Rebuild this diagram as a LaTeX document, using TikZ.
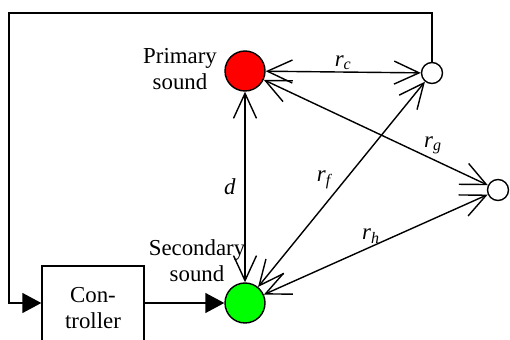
\documentclass[tikz,border=0pt]{standalone}
\usepackage{fontspec}
\setmainfont{Liberation Serif}
\usetikzlibrary{arrows.meta,positioning}
\newcommand{\rdist}[1]{\textit{r}\textsubscript{\textit{#1}}}
\tikzset{
	src/.style={draw,circle,thick,minimum size=0.8cm,inner sep=0pt},
	mic/.style={draw,circle,thick,fill=white,minimum size=0.42cm,inner sep=0pt},
	wave/.style={thick,{Straight Barb[length=0.5cm,width=0.46cm]}-{Straight Barb[length=0.5cm,width=0.46cm]}},
	feed/.style={thick,-{Triangle[length=0.38cm,width=0.4cm]}},
	lbl/.style={font=\fontsize{13}{15}\selectfont,align=center,inner sep=1pt}
}
\begin{document}
\begin{tikzpicture}[x=0.02cm,y=-0.02cm]
	\useasboundingbox (0,0) rectangle (510,340);
	\node[src,fill=red] (prim) at (245,71) {};
	\node[src,fill=green] (sec) at (245,303) {};
	\node[mic] (micA) at (432,73) {};
	\node[mic] (micB) at (498,190) {};
	\node[draw,thick,minimum width=2.04cm,minimum height=1.68cm,lbl] (ctrl) at (93,308) {Con-\\troller};
	\node[lbl] (primtxt) at (180,69) {Primary\\sound};
	\node[lbl] (sectxt) at (197,261) {Secondary\\sound};
	\coordinate (corner) at (9,13);
	\draw[wave] (prim) -- node[lbl,above] {\rdist{c}} (micA);
	\draw[wave] (prim) -- node[lbl,left=4pt] {\textit{d}} (sec);
	\draw[wave] (prim) -- (micB);
	\draw[wave] (sec) -- (micA);
	\draw[wave] (sec) -- (micB);
	\node[lbl] (rf) at (325,180) {\rdist{f}};
	\node[lbl] (rg) at (433,145) {\rdist{g}};
	\node[lbl] (rh) at (371,236) {\rdist{h}};
	\draw[feed] (ctrl.east |- sec) -- (sec);
	\draw[feed] (micA.north) |- (corner) |- (ctrl.west |- sec);
\end{tikzpicture}
\end{document}
